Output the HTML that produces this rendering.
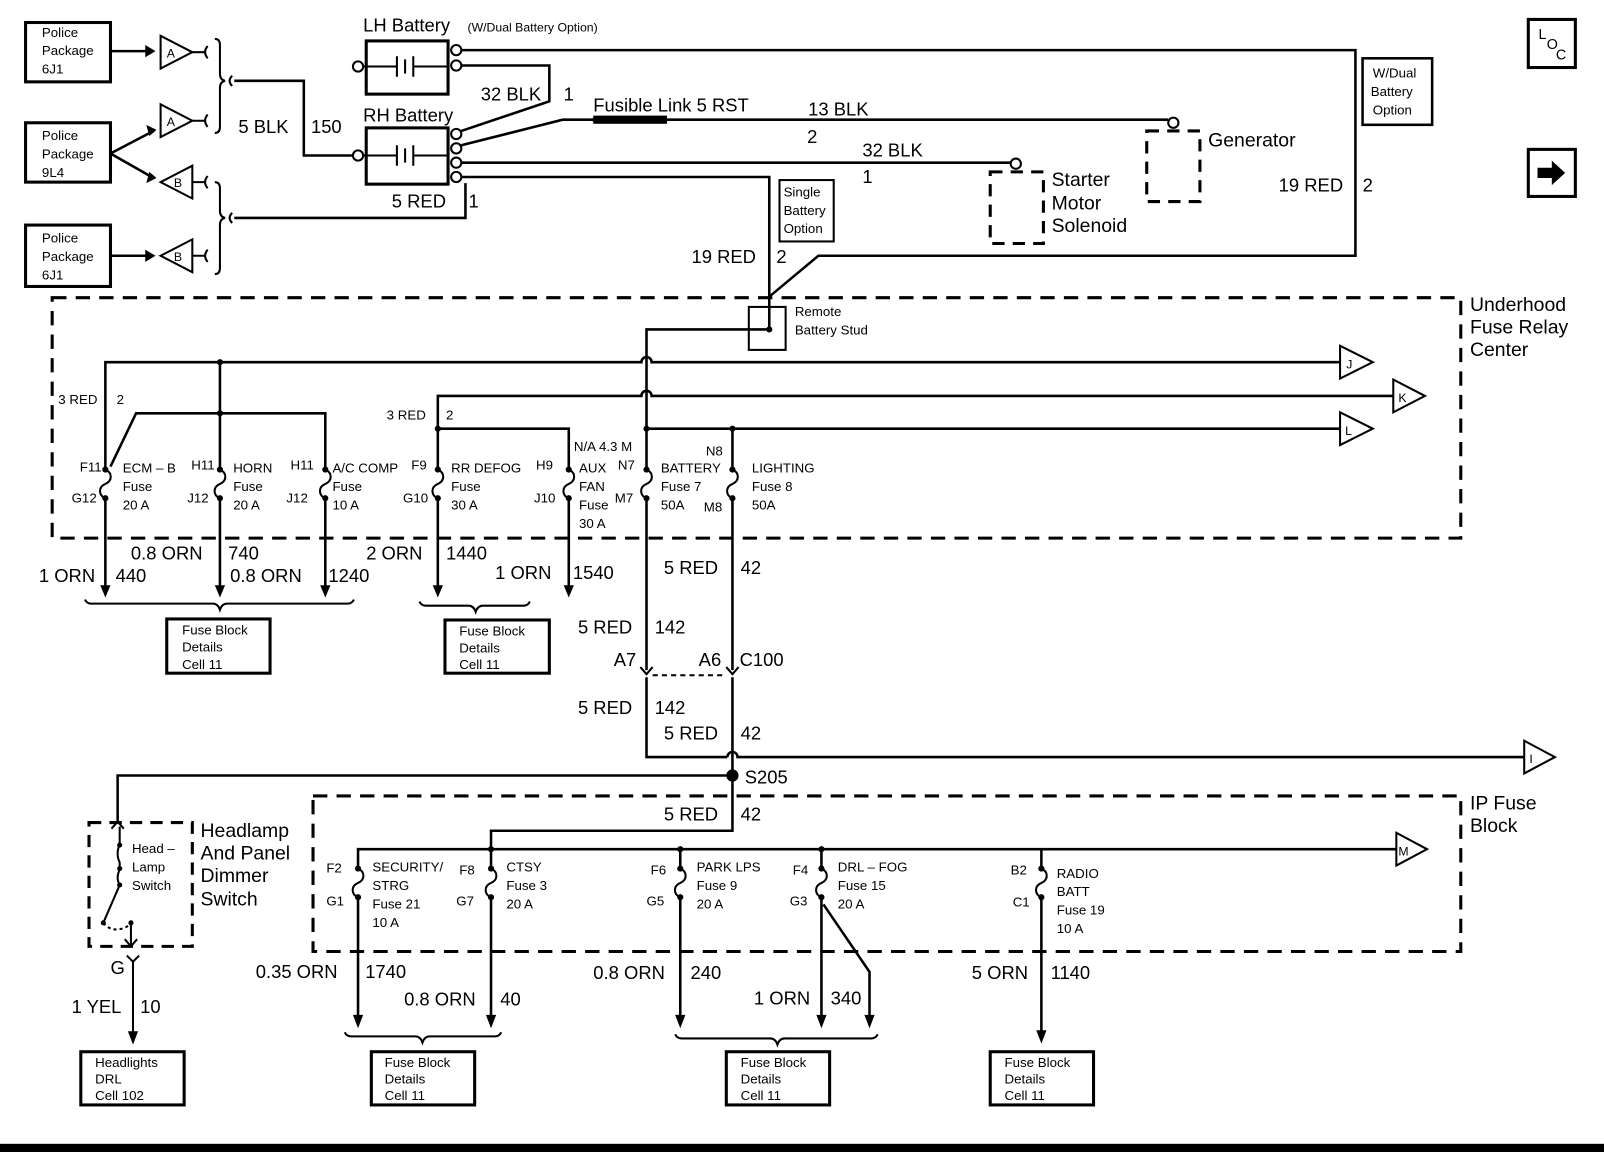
<!DOCTYPE html>
<html><head><meta charset="utf-8"><style>
html,body{margin:0;padding:0;background:#fff;}
svg{display:block;}
text{font-family:"Liberation Sans",sans-serif;fill:#000;}
.s{font-size:13px;}
.m{font-size:18px;}
.l{font-size:19px;}
</style></head><body>
<svg width="1604" height="1152" viewBox="0 0 1568 1126" preserveAspectRatio="none" xmlns="http://www.w3.org/2000/svg">
<defs><path id="fz" d="M0,0 c7,3 7,11 0,14 c-7,3 -7,11 0,14"/></defs>
<g fill="none" stroke="#000" stroke-width="2.5">
<rect x="25" y="22" width="83" height="58" stroke-width="3"/>
<rect x="25" y="120" width="83" height="58" stroke-width="3"/>
<rect x="25" y="220" width="83" height="60" stroke-width="3"/>
<line x1="108" y1="50" x2="148" y2="50"/>
<line x1="108" y1="150" x2="150" y2="128"/>
<line x1="108" y1="150" x2="150" y2="174"/>
<line x1="108" y1="250" x2="148" y2="250"/>
<polygon points="157,35 157,67 188,51" stroke-width="2"/>
<polygon points="157,102 157,134 188,118" stroke-width="2"/>
<polygon points="188,162 188,194 157,178" stroke-width="2"/>
<polygon points="188,234 188,266 157,250" stroke-width="2"/>
<path d="M188,51 H200 M203,45 q-5,6 0,12 M188,118 H200 M203,112 q-5,6 0,12 M188,178 H200 M203,172 q-5,6 0,12 M188,250 H200 M203,244 q-5,6 0,12" stroke-width="2"/>
<path d="M210,38 q5,0 5,6 V72 q0,6 5,7 q-5,1 -5,7 V124 q0,6 -5,6" stroke-width="2"/>
<path d="M210,178 q5,0 5,6 V206 q0,6 5,7 q-5,1 -5,7 V262 q0,6 -5,6" stroke-width="2"/>
<path d="M227,74 q-5,5 0,10 M227,208 q-5,5 0,10" stroke-width="2"/>
<polyline points="229,79 297,79 297,152 344,152"/>
<polyline points="229,213 455,213 455,179"/>
<rect x="358" y="40" width="80" height="52" stroke-width="3"/>
<rect x="358" y="125" width="80" height="55" stroke-width="3"/>
<circle cx="350" cy="65" r="5" stroke-width="2"/>
<circle cx="350" cy="152" r="5" stroke-width="2"/>
<path d="M355,65 H388 M388,55 V75 M396,58 V72 M404,55 V75 M404,65 H438" stroke-width="2"/>
<path d="M355,152 H388 M388,142 V162 M396,145 V159 M404,142 V162 M404,152 H438" stroke-width="2"/>
<circle cx="446" cy="49" r="5" stroke-width="2"/>
<circle cx="446" cy="64" r="5" stroke-width="2"/>
<circle cx="446" cy="131" r="5" stroke-width="2"/>
<circle cx="446" cy="145" r="5" stroke-width="2"/>
<circle cx="446" cy="159" r="5" stroke-width="2"/>
<circle cx="446" cy="173" r="5" stroke-width="2"/>
<polyline points="451,49 1325,49 1325,250 800,250 752,290"/>
<polyline points="451,64 537,64 537,99 451,128"/>
<polyline points="451,142 550,117 580,117"/>
<line x1="652" y1="117" x2="1142" y2="117"/>
<circle cx="1147" cy="120" r="5" stroke-width="2"/>
<line x1="451" y1="159" x2="988" y2="159"/>
<circle cx="993" cy="160" r="5" stroke-width="2"/>
<polyline points="451,173 752,173 752,322 632,322 632,350"/>
<rect x="1121" y="128" width="52" height="69" stroke-dasharray="12,8" stroke-width="3"/>
<rect x="968" y="168" width="52" height="70" stroke-dasharray="12,8" stroke-width="3"/>
<rect x="762" y="176" width="53" height="60" stroke-width="2"/>
<rect x="1332" y="57" width="68" height="65" stroke-width="2.5"/>
<rect x="1494" y="19" width="46" height="47" stroke-width="3"/>
<rect x="1494" y="146" width="46" height="46" stroke-width="3"/>
<rect x="732" y="300" width="36" height="42" stroke-width="2"/>
<rect x="51" y="291" width="1377" height="235" stroke-dasharray="14,9" stroke-width="3"/>
<path d="M103,580 V354 H627 a5,5 0 0 1 10,0 H1310"/>
<path d="M428,580 V387 H627 a5,5 0 0 1 10,0 H1362"/>
<polyline points="632,350 632,655"/>
<line x1="632" y1="419" x2="1310" y2="419"/>
<polyline points="716,655 716,419"/>
<line x1="215" y1="354" x2="215" y2="580"/>
<polyline points="108,456 133,404 318,404 318,580"/>
<polyline points="428,419 556,419 556,580"/>
<polygon points="1310,338 1310,370 1342,354" fill="#fff" stroke-width="2"/>
<polygon points="1362,371 1362,403 1393,387" fill="#fff" stroke-width="2"/>
<polygon points="1310,403 1310,435 1342,419" fill="#fff" stroke-width="2"/>
<path d="M83,586 q2,4 6,4 H208 q5,0 7,6 q2,-6 7,-6 H340 q4,0 6,-4" stroke-width="2"/>
<path d="M410,588 q2,4 6,4 H458 q5,0 7,6 q2,-6 7,-6 H512 q4,0 6,-4" stroke-width="2"/>
<rect x="163" y="605" width="101" height="53" stroke-width="3"/>
<rect x="435" y="606" width="102" height="52" stroke-width="3"/>
<path d="M626,652 l6,7 l6,-7 M710,652 l6,7 l6,-7" stroke-width="2"/>
<line x1="638" y1="660" x2="710" y2="660" stroke-dasharray="5,4" stroke-width="2"/>
<polyline points="632,662 632,740 711,740"/>
<path d="M711,740 a5,5 0 0 1 10,0 H1490"/>
<polygon points="1490,724 1490,756 1520,740" fill="#fff" stroke-width="2"/>
<polyline points="716,662 716,812 480,812 480,830"/>
<polyline points="716,758 115,758 115,805"/>
<path d="M109,810 l6,-7 l6,7" stroke-width="2"/>
<rect x="87" y="804" width="101" height="121" stroke-dasharray="12,8" stroke-width="3"/>
<path d="M117,808 V825 q-4,10 0,18 V850 q-4,8 0,15 L101,902" stroke-width="2"/>
<path d="M101,902 q10,12 26,2" stroke-dasharray="3,3" stroke-width="2"/>
<path d="M128,902 V925 M122,918 l6,7 l6,-7" stroke-width="2"/>
<path d="M124,934 l6,6 l6,-6 M130,940 V1018" stroke-width="2"/>
<rect x="79" y="1028" width="101" height="52" stroke-width="3"/>
<rect x="306" y="778" width="1122" height="152" stroke-dasharray="14,9" stroke-width="3"/>
<polyline points="350,1000 350,830 1365,830"/>
<line x1="480" y1="830" x2="480" y2="1000"/>
<line x1="665" y1="830" x2="665" y2="1000"/>
<line x1="803" y1="830" x2="803" y2="1000"/>
<polyline points="805,884 850,950 850,1000"/>
<line x1="1018" y1="830" x2="1018" y2="1015"/>
<polygon points="1365,814 1365,846 1395,830" fill="#fff" stroke-width="2"/>
<path d="M337,1009 q2,4 6,4 H406 q5,0 7,6 q2,-6 7,-6 H484 q4,0 6,-4" stroke-width="2"/>
<path d="M660,1011 q2,4 6,4 H753 q5,0 7,6 q2,-6 7,-6 H852 q4,0 6,-4" stroke-width="2"/>
<rect x="363" y="1028" width="101" height="52" stroke-width="3"/>
<rect x="710" y="1028" width="101" height="52" stroke-width="3"/>
<rect x="968" y="1028" width="101" height="52" stroke-width="3"/>
</g>
<g stroke="#fff" stroke-width="5">
<path d="M103,459 V487 M215,459 V487 M318,459 V487 M428,459 V487 M556,459 V487 M632,459 V487 M716,459 V487 M350,849 V877 M480,849 V877 M665,849 V877 M803,849 V877 M1018,849 V877"/>
</g>
<g fill="none" stroke="#000" stroke-width="2">
<use href="#fz" x="103" y="459"/><use href="#fz" x="215" y="459"/><use href="#fz" x="318" y="459"/><use href="#fz" x="428" y="459"/><use href="#fz" x="556" y="459"/><use href="#fz" x="632" y="459"/><use href="#fz" x="716" y="459"/>
<use href="#fz" x="350" y="849"/><use href="#fz" x="480" y="849"/><use href="#fz" x="665" y="849"/><use href="#fz" x="803" y="849"/><use href="#fz" x="1018" y="849"/>
</g>
<g fill="#000">
<polygon points="142,44 152,50 142,56"/>
<polygon points="143,122 153,127 146,133"/>
<polygon points="146,168 153,174 143,179"/>
<polygon points="142,244 152,250 142,256"/>
<rect x="580" y="113" width="72" height="8"/>
<circle cx="582" cy="117" r="3"/>
<polygon points="98,572 103,584 108,572"/><polygon points="210,572 215,584 220,572"/><polygon points="313,572 318,584 323,572"/><polygon points="423,572 428,584 433,572"/><polygon points="551,572 556,584 561,572"/>
<polygon points="345,992 350,1005 355,992"/><polygon points="475,992 480,1005 485,992"/><polygon points="660,992 665,1005 670,992"/><polygon points="798,992 803,1005 808,992"/><polygon points="845,992 850,1005 855,992"/><polygon points="1013,1007 1018,1020 1023,1007"/><polygon points="125,1008 130,1021 135,1008"/>
<circle cx="752" cy="322" r="3"/><circle cx="215" cy="354" r="3"/><circle cx="215" cy="404" r="3"/><circle cx="428" cy="419" r="3"/><circle cx="632" cy="419" r="3"/><circle cx="716" cy="419" r="3"/>
<circle cx="716" cy="758" r="6"/><circle cx="480" cy="830" r="3"/><circle cx="665" cy="830" r="3"/><circle cx="803" cy="830" r="3"/>
<circle cx="117" cy="826" r="2.5"/><circle cx="117" cy="849" r="2.5"/><circle cx="117" cy="865" r="2.5"/><circle cx="101" cy="902" r="2.5"/><circle cx="128" cy="902" r="2.5"/>
<circle cx="103" cy="459" r="3"/><circle cx="103" cy="487" r="3"/><circle cx="215" cy="459" r="3"/><circle cx="215" cy="487" r="3"/><circle cx="318" cy="459" r="3"/><circle cx="318" cy="487" r="3"/><circle cx="428" cy="459" r="3"/><circle cx="428" cy="487" r="3"/><circle cx="556" cy="459" r="3"/><circle cx="556" cy="487" r="3"/><circle cx="632" cy="459" r="3"/><circle cx="632" cy="487" r="3"/><circle cx="716" cy="459" r="3"/><circle cx="716" cy="487" r="3"/>
<circle cx="350" cy="849" r="3"/><circle cx="350" cy="877" r="3"/><circle cx="480" cy="849" r="3"/><circle cx="480" cy="877" r="3"/><circle cx="665" cy="849" r="3"/><circle cx="665" cy="877" r="3"/><circle cx="803" cy="849" r="3"/><circle cx="803" cy="877" r="3"/><circle cx="1018" cy="849" r="3"/><circle cx="1018" cy="877" r="3"/>
<rect x="0" y="1118" width="1568" height="8"/>
<polygon points="1503,164 1517,164 1517,157 1530,169 1517,181 1517,174 1503,174"/>
</g>
<g class="s">
<text x="41" y="36">Police</text><text x="41" y="54">Package</text><text x="41" y="72">6J1</text>
<text x="41" y="137">Police</text><text x="41" y="155">Package</text><text x="41" y="173">9L4</text>
<text x="41" y="237">Police</text><text x="41" y="255">Package</text><text x="41" y="273">6J1</text>
<text x="163" y="56" font-size="12">A</text><text x="163" y="123" font-size="12">A</text><text x="170" y="183" font-size="12">B</text><text x="170" y="255" font-size="12">B</text>
<text x="457" y="31" font-size="12">(W/Dual Battery Option)</text>
<text x="766" y="192">Single</text><text x="766" y="210">Battery</text><text x="766" y="228">Option</text>
<text x="1342" y="76">W/Dual</text><text x="1340" y="94">Battery</text><text x="1342" y="112">Option</text>
<text x="777" y="309">Remote</text><text x="777" y="327">Battery Stud</text>
<text x="1504" y="38" font-size="14">L</text><text x="1512" y="48" font-size="14">O</text><text x="1521" y="58" font-size="14">C</text>
<text x="1316" y="360" font-size="12">J</text><text x="1367" y="393" font-size="12">K</text><text x="1315" y="425" font-size="12">L</text>
<text x="1495" y="746" font-size="12">I</text><text x="1367" y="836" font-size="12">M</text>
<text x="57" y="395">3 RED</text><text x="114" y="395">2</text>
<text x="378" y="410">3 RED</text><text x="436" y="410">2</text>
<text x="78" y="461">F11</text><text x="70" y="491">G12</text><text x="120" y="462">ECM – B</text><text x="120" y="480">Fuse</text><text x="120" y="498">20 A</text>
<text x="187" y="459">H11</text><text x="183" y="491">J12</text><text x="228" y="462">HORN</text><text x="228" y="480">Fuse</text><text x="228" y="498">20 A</text>
<text x="284" y="459">H11</text><text x="280" y="491">J12</text><text x="325" y="462">A/C COMP</text><text x="325" y="480">Fuse</text><text x="325" y="498">10 A</text>
<text x="402" y="459">F9</text><text x="394" y="491">G10</text><text x="441" y="462">RR DEFOG</text><text x="441" y="480">Fuse</text><text x="441" y="498">30 A</text>
<text x="524" y="459">H9</text><text x="522" y="491">J10</text><text x="566" y="462">AUX</text><text x="566" y="480">FAN</text><text x="566" y="498">Fuse</text><text x="566" y="516">30 A</text>
<text x="561" y="441">N/A 4.3 M</text>
<text x="604" y="459">N7</text><text x="601" y="491">M7</text><text x="646" y="462">BATTERY</text><text x="646" y="480">Fuse 7</text><text x="646" y="498">50A</text>
<text x="690" y="445">N8</text><text x="688" y="500">M8</text><text x="735" y="462">LIGHTING</text><text x="735" y="480">Fuse 8</text><text x="735" y="498">50A</text>
<text x="178" y="620">Fuse Block</text><text x="178" y="637">Details</text><text x="178" y="654">Cell 11</text>
<text x="449" y="621">Fuse Block</text><text x="449" y="638">Details</text><text x="449" y="654">Cell 11</text>
<text x="129" y="834">Head –</text><text x="129" y="852">Lamp</text><text x="129" y="870">Switch</text>
<text x="319" y="853">F2</text><text x="319" y="885">G1</text><text x="364" y="852">SECURITY/</text><text x="364" y="870">STRG</text><text x="364" y="888">Fuse 21</text><text x="364" y="906">10 A</text>
<text x="449" y="855">F8</text><text x="446" y="885">G7</text><text x="495" y="852">CTSY</text><text x="495" y="870">Fuse 3</text><text x="495" y="888">20 A</text>
<text x="636" y="855">F6</text><text x="632" y="885">G5</text><text x="681" y="852">PARK LPS</text><text x="681" y="870">Fuse 9</text><text x="681" y="888">20 A</text>
<text x="775" y="855">F4</text><text x="772" y="885">G3</text><text x="819" y="852">DRL – FOG</text><text x="819" y="870">Fuse 15</text><text x="819" y="888">20 A</text>
<text x="988" y="855">B2</text><text x="990" y="886">C1</text><text x="1033" y="858">RADIO</text><text x="1033" y="876">BATT</text><text x="1033" y="894">Fuse 19</text><text x="1033" y="912">10 A</text>
<text x="93" y="1043">Headlights</text><text x="93" y="1059">DRL</text><text x="93" y="1075">Cell 102</text>
<text x="376" y="1043">Fuse Block</text><text x="376" y="1059">Details</text><text x="376" y="1075">Cell 11</text>
<text x="724" y="1043">Fuse Block</text><text x="724" y="1059">Details</text><text x="724" y="1075">Cell 11</text>
<text x="982" y="1043">Fuse Block</text><text x="982" y="1059">Details</text><text x="982" y="1075">Cell 11</text>
</g>
<g class="m">
<text x="355" y="31">LH Battery</text>
<text x="355" y="119">RH Battery</text>
<text x="470" y="98">32 BLK</text><text x="551" y="98">1</text>
<text x="580" y="109">Fusible Link 5 RST</text>
<text x="790" y="113">13 BLK</text><text x="789" y="140">2</text>
<text x="843" y="153">32 BLK</text><text x="843" y="179">1</text>
<text x="233" y="130">5 BLK</text><text x="304" y="130">150</text>
<text x="383" y="203">5 RED</text><text x="458" y="203">1</text>
<text x="676" y="257">19 RED</text><text x="759" y="257">2</text>
<text x="1250" y="187">19 RED</text><text x="1332" y="187">2</text>
<text x="128" y="547">0.8 ORN</text><text x="223" y="547">740</text>
<text x="38" y="569">1 ORN</text><text x="113" y="569">440</text>
<text x="225" y="569">0.8 ORN</text><text x="321" y="569">1240</text>
<text x="358" y="547">2 ORN</text><text x="436" y="547">1440</text>
<text x="484" y="566">1 ORN</text><text x="560" y="566">1540</text>
<text x="649" y="561">5 RED</text><text x="724" y="561">42</text>
<text x="565" y="619">5 RED</text><text x="640" y="619">142</text>
<text x="600" y="651">A7</text><text x="683" y="651">A6</text><text x="723" y="651">C100</text>
<text x="565" y="698">5 RED</text><text x="640" y="698">142</text>
<text x="649" y="723">5 RED</text><text x="724" y="723">42</text>
<text x="728" y="766">S205</text>
<text x="649" y="802">5 RED</text><text x="724" y="802">42</text>
<text x="108" y="952">G</text>
<text x="70" y="990">1 YEL</text><text x="137" y="990">10</text>
<text x="250" y="956">0.35 ORN</text><text x="357" y="956">1740</text>
<text x="395" y="983">0.8 ORN</text><text x="489" y="983">40</text>
<text x="580" y="957">0.8 ORN</text><text x="675" y="957">240</text>
<text x="737" y="982">1 ORN</text><text x="812" y="982">340</text>
<text x="950" y="957">5 ORN</text><text x="1027" y="957">1140</text>
</g>
<g class="l">
<text x="1181" y="143">Generator</text>
<text x="1028" y="182">Starter</text><text x="1028" y="205">Motor</text><text x="1028" y="227">Solenoid</text>
<text x="1437" y="304">Underhood</text><text x="1437" y="326">Fuse Relay</text><text x="1437" y="348">Center</text>
<text x="196" y="818">Headlamp</text><text x="196" y="840">And Panel</text><text x="196" y="862">Dimmer</text><text x="196" y="885">Switch</text>
<text x="1437" y="791">IP Fuse</text><text x="1437" y="813">Block</text>
</g>
</svg>
</body></html>
